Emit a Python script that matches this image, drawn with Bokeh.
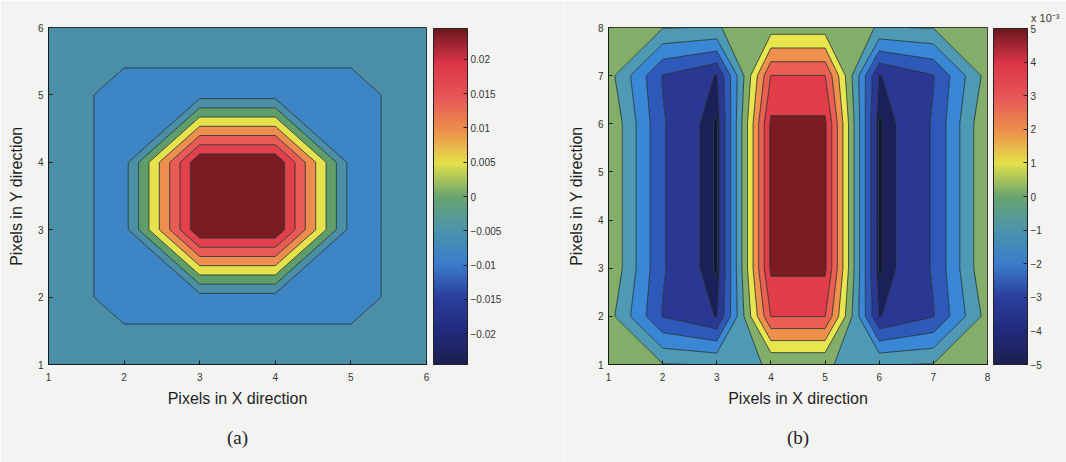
import numpy as np
from bokeh.plotting import figure
from bokeh.layouts import row
from bokeh.models import ColorBar, LinearColorMapper, FixedTicker, Title
from bokeh.embed import file_html
from bokeh.resources import INLINE

# ---------------- data: panel (a) ----------------
xa = [1, 2, 3, 4, 5, 6]
ya = [1, 2, 3, 4, 5, 6]
za = [
    [-0.007, -0.007, -0.007, -0.007, -0.007, -0.007],
    [-0.007, -0.012, -0.012, -0.012, -0.012, -0.007],
    [-0.007, -0.012, 0.0245, 0.0245, -0.012, -0.007],
    [-0.007, -0.012, 0.0245, 0.0245, -0.012, -0.007],
    [-0.007, -0.012, -0.012, -0.012, -0.012, -0.007],
    [-0.007, -0.007, -0.007, -0.007, -0.007, -0.007],
]
levels_a = [-0.0125, -0.01, -0.005, 0.0, 0.005, 0.01, 0.015, 0.02, 0.025]
cbar_a = [-0.0245, 0.0245]
ticks_a = [-0.02, -0.015, -0.01, -0.005, 0.0, 0.005, 0.01, 0.015, 0.02]
tick_labels_a = ["\u22120.02", "\u22120.015", "\u22120.01", "\u22120.005", "0",
                 "0.005", "0.01", "0.015", "0.02"]

# ---------------- data: panel (b), values in units of 1e-3 ----------------
xb = [1, 2, 3, 4, 5, 6, 7, 8]
yb = [1, 2, 3, 4, 5, 6, 7, 8]
zb = [
    [0.0, -0.45, -0.55, -0.49, -0.49, -0.55, -0.45, 0.0],
    [-0.1, -3.55, -4.55, 3.52, 3.52, -4.55, -3.55, -0.1],
    [0.49, -3.4, -5.0, 4.7, 4.7, -5.0, -3.4, 0.49],
    [0.49, -3.4, -5.0, 4.7, 4.7, -5.0, -3.4, 0.49],
    [0.49, -3.4, -5.0, 4.7, 4.7, -5.0, -3.4, 0.49],
    [0.49, -3.4, -5.0, 4.7, 4.7, -5.0, -3.4, 0.49],
    [-0.1, -3.55, -4.55, 3.52, 3.52, -4.55, -3.55, -0.1],
    [0.0, -0.45, -0.55, 0.0, 0.0, -0.55, -0.45, 0.0],
]
levels_b = [-5.1, -4.9, -4.5, -3.5, -2.5, -1.5, -0.5, 0.5, 1.5, 2.5, 3.5, 4.5, 5.0]
cbar_b = [-5.0, 5.0]
ticks_b = [-5, -4, -3, -2, -1, 0, 1, 2, 3, 4, 5]
tick_labels_b = ["\u22125", "\u22124", "\u22123", "\u22122", "\u22121", "0",
                 "1", "2", "3", "4", "5"]
scale_b = "x 10\u207b\u00b3"

# ---------------- styles ----------------
fills_a = ["#3e85c5", "#4a8fa5", "#5f9e6b", "#e6e24c", "#ee8e4e",
           "#e95c55", "#e2404b", "#7a1c22"]
fills_b = ["#11153c", "#1b2158", "#2a3893", "#2f58bb", "#3a87d5", "#4e99b4",
           "#82ae6a", "#e8e64c", "#f0904d", "#ec5d52", "#e43d4a", "#7c1b22"]

stops_t = [0.0, 0.1, 0.2, 0.3, 0.4, 0.5, 0.6, 0.7, 0.8, 0.9, 1.0]
stops_c = ["#1b1f4f", "#222b7c", "#2a3f9c", "#3b7dcb", "#4b94ad", "#6aa56e",
           "#e4e04a", "#ed8d4c", "#e75558", "#db3446", "#6c1820"]


def hex2rgb(h):
    return [int(h[i:i + 2], 16) for i in (1, 3, 5)]


rgb = np.array([hex2rgb(c) for c in stops_c], dtype=float)
tt = np.linspace(0, 1, 256)
palette = ["#%02x%02x%02x" % tuple(int(round(np.interp(t, stops_t, rgb[:, k]))) for k in range(3))
           for t in tt]

PAPER = "#f3f3f1"
FONT = "Liberation Sans"


def make_panel(x, y, z, levels, fills, lo_hi, ticks, tick_labels, fw, mbl, mbr, cb_gap, tag):
    p = figure(frame_width=fw, frame_height=337,
               x_range=(x[0], x[-1]), y_range=(y[0], y[-1]),
               min_border_left=mbl, min_border_top=27, min_border_bottom=96,
               min_border_right=mbr,
               output_backend="svg", toolbar_location=None,
               border_fill_color=PAPER, background_fill_color=PAPER)
    p.contour(x, y, np.array(z), levels, fill_color=fills,
              line_color="#17262a", line_width=0.9, line_alpha=0.85)
    p.xgrid.visible = False
    p.ygrid.visible = False
    p.outline_line_color = "#1a1a1a"
    p.outline_line_width = 1
    p.xaxis.ticker = FixedTicker(ticks=x)
    p.yaxis.ticker = FixedTicker(ticks=y)
    p.xaxis.axis_label = "Pixels in X direction"
    p.yaxis.axis_label = "Pixels in Y direction"
    for ax in (p.xaxis[0], p.yaxis[0]):
        ax.axis_label_text_font = FONT
        ax.axis_label_text_font_size = "16px"
        ax.axis_label_text_font_style = "normal"
        ax.axis_label_text_color = "#1e1e1e"
        ax.major_label_text_font = FONT
        ax.major_label_text_font_size = "10px"
        ax.major_label_text_color = "#333333"
        ax.major_tick_in = 4
        ax.major_tick_out = 0
        ax.minor_tick_line_color = None
        ax.axis_line_color = "#1a1a1a"
        ax.major_tick_line_color = "#1a1a1a"
    p.xaxis.major_label_standoff = 8
    p.xaxis.axis_label_standoff = 6
    p.yaxis.major_label_standoff = 5
    p.yaxis.axis_label_standoff = 10

    mapper = LinearColorMapper(palette=palette, low=lo_hi[0], high=lo_hi[1])
    cb = ColorBar(color_mapper=mapper, ticker=FixedTicker(ticks=ticks),
                  major_label_overrides=dict(zip(ticks, tick_labels)),
                  width=34, height=336, location=(fw + cb_gap, 0),
                  margin=0, padding=0,
                  major_label_text_font=FONT, major_label_text_font_size="10px",
                  major_label_text_color="#333333",
                  label_standoff=3, major_tick_in=4, major_tick_out=0,
                  major_tick_line_color="#222222", minor_tick_line_color=None,
                  bar_line_color="#222222", border_line_color=None,
                  background_fill_color=None)
    p.add_layout(cb)
    p.add_layout(Title(text=tag, align="center", text_font="Liberation Serif",
                       text_font_size="19px", text_font_style="normal",
                       text_color="#222222", standoff=31), "below")
    return p


p1 = make_panel(xa, ya, za, levels_a, fills_a, cbar_a, ticks_a, tick_labels_a,
                378, 48, 138, 7, "(a)")
p2 = make_panel(xb, yb, zb, levels_b, fills_b, cbar_b, ticks_b, tick_labels_b,
                379, 40, 82, 6, "(b)")
p2.add_layout(Title(text=scale_b, align="right", offset=-72, standoff=8,
                    text_font=FONT, text_font_size="11px", text_font_style="normal",
                    text_color="#333333"), "above")

layout = row(p1, p2)
html = file_html(layout, INLINE)
html = html.replace("<body>", '<body style="background:%s">' % PAPER, 1)
open("out.html", "w").write(html)
